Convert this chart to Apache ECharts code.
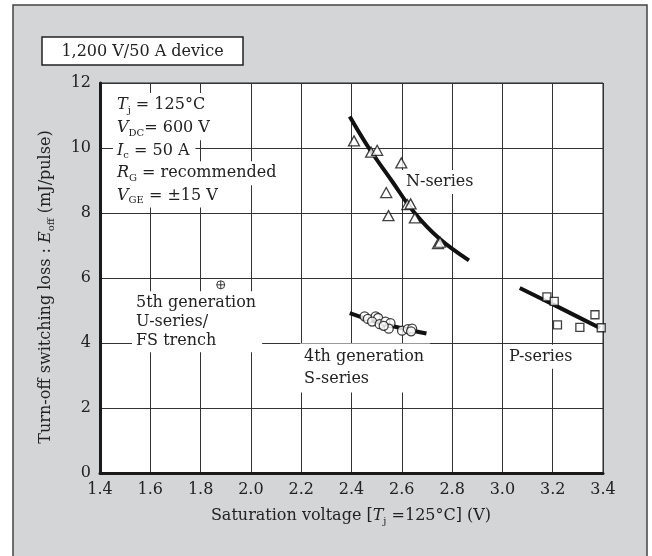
<!DOCTYPE html>
<html>
<head>
<meta charset="utf-8">
<script src="https://cdn.jsdelivr.net/npm/echarts@6/dist/echarts.min.js"></script>
<style>
html,body{margin:0;padding:0;background:#fff;}
#chart{width:652px;height:556px;}
</style>
</head>
<body>
<div id="chart"></div>
<script>
const nSeriesPoints = [[2.41,10.22],[2.478,9.87],[2.502,9.93],[2.598,9.54],[2.538,8.63],[2.622,8.26],[2.635,8.28],[2.547,7.92],[2.652,7.85],[2.744,7.06],[2.752,7.10]];
const sSeriesPoints = [[2.452,4.82],[2.465,4.74],[2.496,4.82],[2.506,4.77],[2.482,4.66],[2.512,4.58],[2.535,4.66],[2.555,4.61],[2.548,4.44],[2.528,4.53],[2.601,4.38],[2.624,4.43],[2.641,4.44],[2.637,4.36]];
const pSeriesPoints = [[3.177,5.42],[3.206,5.28],[3.219,4.56],[3.308,4.48],[3.368,4.87],[3.393,4.47]];
const uSeriesPoints = [[1.88,5.79]];
// fitted trend curves
const nSeriesFit = [[2.393,10.97],[2.469,10.0],[2.562,8.97],[2.648,8.03],[2.748,7.22],[2.867,6.54]];
const sSeriesFit = [[2.393,4.92],[2.52,4.60],[2.698,4.29]];
const pSeriesFit = [[3.069,5.69],[3.229,5.08],[3.388,4.46]];
// axes
const xMin = 1.4, xMax = 3.4, xStep = 0.2;
const yMin = 0, yMax = 12, yStep = 2;

const SERIF = '"DejaVu Serif", serif';
const INK = '#222';
const rich = {
  i:   {fontFamily: SERIF, fontSize: 16, fontStyle: 'italic', lineHeight: 20, fill: INK},
  sub: {fontFamily: SERIF, fontSize: 10, lineHeight: 10, verticalAlign: 'bottom', fill: INK}
};

function txt(x, y, text, extra) {
  return {
    type: 'text', x: x, y: y, z: 1,
    style: Object.assign({
      text: text, rich: rich,
      fontFamily: SERIF, fontSize: 16, lineHeight: 20, fill: INK,
      align: 'left', verticalAlign: 'middle'
    }, extra || {})
  };
}
const box = {backgroundColor: '#fff', padding: [2, 6, 2, 4]};

const chart = echarts.init(document.getElementById('chart'));

const markStyle = {color: '#fff', borderColor: '#111', borderWidth: 1.3};
const fitStyle = {color: '#111', width: 4};

chart.setOption({
  animation: false,
  grid: {left: 100, right: 49, top: 83, bottom: 83, show: true,
    backgroundColor: '#fff', borderColor: '#222', borderWidth: 1},
  xAxis: {
    type: 'value', min: xMin, max: xMax, interval: xStep,
    axisLine: {onZero: false, lineStyle: {color: '#1a1a1a', width: 3}},
    axisTick: {show: false},
    axisLabel: {margin: 9, fontFamily: SERIF, fontSize: 16, color: INK,
      formatter: v => v.toFixed(1)},
    splitLine: {show: true, lineStyle: {color: '#333', width: 1}}
  },
  yAxis: {
    type: 'value', min: yMin, max: yMax, interval: yStep,
    axisLine: {show: true, onZero: false, lineStyle: {color: '#1a1a1a', width: 3}},
    axisTick: {show: false},
    axisLabel: {margin: 9, fontFamily: SERIF, fontSize: 16, color: INK},
    splitLine: {show: true, lineStyle: {color: '#333', width: 1}}
  },
  graphic: [
    {type: 'rect', z: -10, shape: {x: 13, y: 5, width: 634, height: 620},
      style: {fill: '#d4d5d7', stroke: '#444', lineWidth: 1.5}},
    {type: 'rect', z: 1, shape: {x: 42, y: 37, width: 201, height: 28},
      style: {fill: '#fff', stroke: '#222', lineWidth: 1.5}},
    txt(142.5, 51.5, '1,200 V/50 A device', {align: 'center'}),
    // conditions
    txt(113, 105, '{i|T}{sub|j} = 125°C', box),
    txt(113, 128.3, '{i|V}{sub|DC}= 600 V', box),
    txt(113, 150.7, '{i|I}{sub|c} = 50 A', box),
    txt(113, 173.3, '{i|R}{sub|G} = recommended', box),
    txt(113, 195.5, '{i|V}{sub|GE} = ±15 V', box),
    // series labels
    txt(402, 182, 'N-series', box),
    txt(132, 321.7, '5th generation\nU-series/\nFS trench', Object.assign({lineHeight: 19}, box)),
    txt(300, 368, '4th generation\nS-series', Object.assign({lineHeight: 22.6}, box)),
    txt(505, 356.7, 'P-series', box),
    // axis titles
    txt(351, 516, 'Saturation voltage [{i|T}{sub|j} =125°C] (V)', {align: 'center'}),
    Object.assign(txt(46, 287, 'Turn-off switching loss : {i|E}{sub|off} (mJ/pulse)', {align: 'center'}),
      {rotation: Math.PI / 2})
  ],
  series: [
    {type: 'line', data: nSeriesFit, smooth: 0.4, showSymbol: false, lineStyle: fitStyle, z: 2, silent: true},
    {type: 'line', data: sSeriesFit, smooth: 0.3, showSymbol: false, lineStyle: fitStyle, z: 2, silent: true},
    {type: 'line', data: pSeriesFit, smooth: 0.3, showSymbol: false, lineStyle: fitStyle, z: 2, silent: true},
    {type: 'scatter', data: nSeriesPoints, symbol: 'triangle', symbolSize: [11, 10], itemStyle: markStyle, z: 3},
    {type: 'scatter', data: sSeriesPoints, symbol: 'circle', symbolSize: 9, itemStyle: markStyle, z: 3},
    {type: 'scatter', data: pSeriesPoints, symbol: 'rect', symbolSize: 8, itemStyle: markStyle, z: 3},
    {type: 'scatter', data: uSeriesPoints,
      symbol: 'path://M5,0A5,5,0,1,1,5,10A5,5,0,1,1,5,0ZM0,5L10,5M5,0L5,10',
      symbolSize: 8, itemStyle: {color: '#fff', borderColor: '#111', borderWidth: 1}, z: 3}
  ]
});
</script>
</body>
</html>
